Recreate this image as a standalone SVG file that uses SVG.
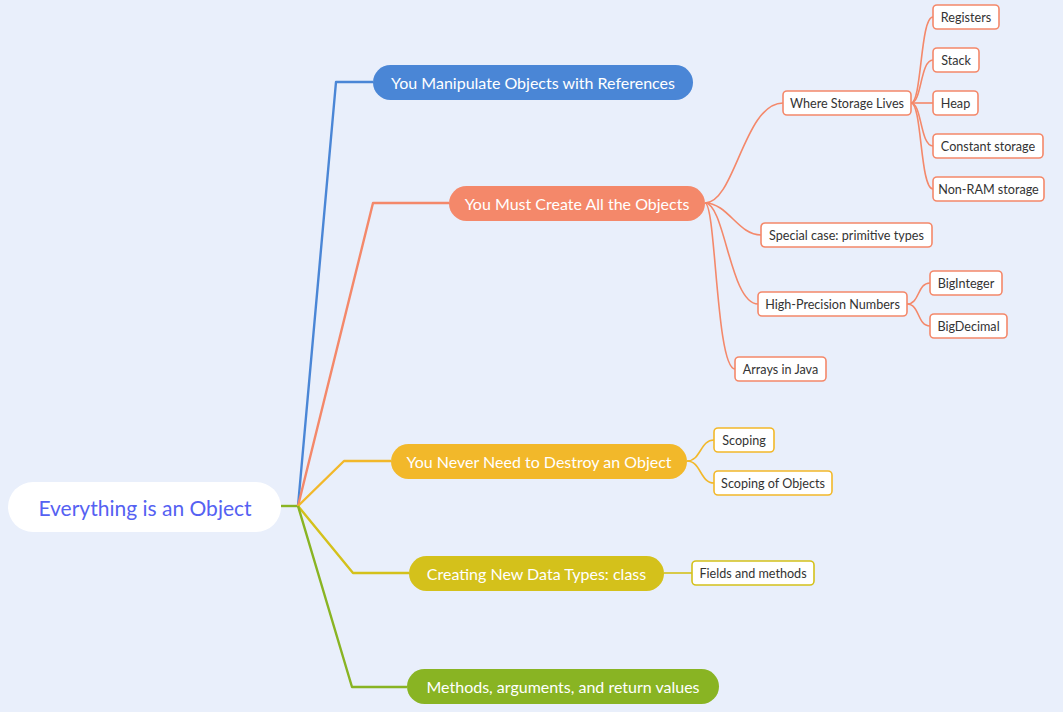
<svg xmlns="http://www.w3.org/2000/svg" width="1063" height="712" viewBox="0 0 1063 712">
  <style>
    .bg { fill: #e9effb; }
    .topic { stroke: none; }
    .topic-text { font-family: Lato, "Open Sans", sans-serif; font-size: 16px; fill: #ffffff; text-anchor: middle; dominant-baseline: central; }
    .sub { fill: #ffffff; stroke-width: 1.6; }
    .sub-text { font-family: Lato, "Open Sans", sans-serif; font-size: 12.6px; fill: #333333; text-anchor: middle; dominant-baseline: central; }
    .link { fill: none; stroke-width: 2.4; stroke-linejoin: round; }
    .curve { fill: none; stroke-width: 1.6; }
    .c-blue { stroke: #4a86d6; }
    .c-orange { stroke: #f4886a; }
    .c-yellow { stroke: #f2b82a; }
    .c-olive { stroke: #d4c11b; }
    .c-green { stroke: #89b423; }
  </style>

  <rect class="bg" x="0" y="0" width="1063" height="712"/>

  <!-- connectors -->
  <g id="connectors">
    <!-- root to branch junction -->
    <path class="link c-green" d="M281,506 H298"/>
    <!-- main branches -->
    <path class="link c-blue" d="M298,506 L336,82 H373"/>
    <path class="link c-orange" d="M298,506 L373,203 H449"/>
    <path class="link c-yellow" d="M298,506 L344,461 H391"/>
    <path class="link c-olive" d="M298,506 L353,573 H409"/>
    <path class="link c-green" d="M298,506 L352,687 H407"/>

    <!-- "You Must Create All the Objects" children -->
    <path class="curve c-orange" d="M705,203 C735,203 744,103 783,103"/>
    <path class="curve c-orange" d="M705,203 C728,203 738,235 761,235"/>
    <path class="curve c-orange" d="M705,203 C725,203 730,304 758,304"/>
    <path class="curve c-orange" d="M705,203 C716,203 716,369 735,369"/>

    <!-- "Where Storage Lives" children -->
    <path class="curve c-orange" d="M911,103 C922,103 920,17 933,17"/>
    <path class="curve c-orange" d="M911,103 C922,103 920,60 933,60"/>
    <path class="curve c-orange" d="M911,103 H933"/>
    <path class="curve c-orange" d="M911,103 C922,103 920,146 933,146"/>
    <path class="curve c-orange" d="M911,103 C922,103 920,189 933,189"/>

    <!-- "High-Precision Numbers" children -->
    <path class="curve c-orange" d="M907,304 C920,304 917,283 930,283"/>
    <path class="curve c-orange" d="M907,304 C920,304 917,326 930,326"/>

    <!-- "You Never Need to Destroy an Object" children -->
    <path class="curve c-yellow" d="M687,461 C701,461 700,440 714,440"/>
    <path class="curve c-yellow" d="M687,461 C701,461 700,483 714,483"/>

    <!-- "Creating New Data Types: class" child -->
    <path class="curve c-olive" d="M664,573 H692"/>
  </g>

  <!-- central topic -->
  <g id="root">
    <rect x="8" y="482" width="273" height="50" rx="25" fill="#ffffff"/>
    <text x="145" y="507" font-family="Lato, 'Open Sans', sans-serif" font-size="21" fill="#5561f2" text-anchor="middle" dominant-baseline="central">Everything is an Object</text>
  </g>

  <!-- main topics -->
  <g id="node-references">
    <rect class="topic" x="373" y="65" width="320" height="35" rx="17.5" fill="#4a86d6"/>
    <text class="topic-text" x="533" y="82.5">You Manipulate Objects with References</text>
  </g>
  <g id="node-create">
    <rect class="topic" x="449" y="186" width="256" height="35" rx="17.5" fill="#f4886a"/>
    <text class="topic-text" x="577" y="203.5">You Must Create All the Objects</text>
  </g>
  <g id="node-destroy">
    <rect class="topic" x="391" y="444" width="296" height="35" rx="17.5" fill="#f2b82a"/>
    <text class="topic-text" x="539" y="461.5">You Never Need to Destroy an Object</text>
  </g>
  <g id="node-class">
    <rect class="topic" x="409" y="556" width="255" height="35" rx="17.5" fill="#d4c11b"/>
    <text class="topic-text" x="536.5" y="573.5">Creating New Data Types: class</text>
  </g>
  <g id="node-methods">
    <rect class="topic" x="407" y="669" width="312" height="35" rx="17.5" fill="#89b423"/>
    <text class="topic-text" x="563" y="686.5">Methods, arguments, and return values</text>
  </g>

  <!-- subtopics -->
  <g id="node-storage">
    <rect class="sub c-orange" x="783" y="91" width="128" height="24" rx="4"/>
    <text class="sub-text" x="847" y="103">Where Storage Lives</text>
  </g>
  <g id="node-registers">
    <rect class="sub c-orange" x="933" y="5" width="66" height="24" rx="4"/>
    <text class="sub-text" x="966" y="17">Registers</text>
  </g>
  <g id="node-stack">
    <rect class="sub c-orange" x="933" y="48" width="46" height="24" rx="4"/>
    <text class="sub-text" x="956" y="60">Stack</text>
  </g>
  <g id="node-heap">
    <rect class="sub c-orange" x="933" y="91" width="45" height="24" rx="4"/>
    <text class="sub-text" x="955.5" y="103">Heap</text>
  </g>
  <g id="node-constant">
    <rect class="sub c-orange" x="933" y="134" width="110" height="24" rx="4"/>
    <text class="sub-text" x="988" y="146">Constant storage</text>
  </g>
  <g id="node-nonram">
    <rect class="sub c-orange" x="933" y="177" width="111" height="24" rx="4"/>
    <text class="sub-text" x="988.5" y="189">Non-RAM storage</text>
  </g>
  <g id="node-primitive">
    <rect class="sub c-orange" x="761" y="223" width="171" height="24" rx="4"/>
    <text class="sub-text" x="846.5" y="235">Special case: primitive types</text>
  </g>
  <g id="node-precision">
    <rect class="sub c-orange" x="758" y="292" width="149" height="24" rx="4"/>
    <text class="sub-text" x="832.5" y="304">High-Precision Numbers</text>
  </g>
  <g id="node-biginteger">
    <rect class="sub c-orange" x="930" y="271" width="72" height="24" rx="4"/>
    <text class="sub-text" x="966" y="283">BigInteger</text>
  </g>
  <g id="node-bigdecimal">
    <rect class="sub c-orange" x="930" y="314" width="77" height="24" rx="4"/>
    <text class="sub-text" x="968.5" y="326">BigDecimal</text>
  </g>
  <g id="node-arrays">
    <rect class="sub c-orange" x="735" y="357" width="91" height="24" rx="4"/>
    <text class="sub-text" x="780.5" y="369">Arrays in Java</text>
  </g>
  <g id="node-scoping">
    <rect class="sub c-yellow" x="714" y="428" width="60" height="24" rx="4"/>
    <text class="sub-text" x="744" y="440">Scoping</text>
  </g>
  <g id="node-scoping-objects">
    <rect class="sub c-yellow" x="714" y="471" width="118" height="24" rx="4"/>
    <text class="sub-text" x="773" y="483">Scoping of Objects</text>
  </g>
  <g id="node-fields">
    <rect class="sub c-olive" x="692" y="561" width="122" height="24" rx="4"/>
    <text class="sub-text" x="753" y="573">Fields and methods</text>
  </g>
</svg>
